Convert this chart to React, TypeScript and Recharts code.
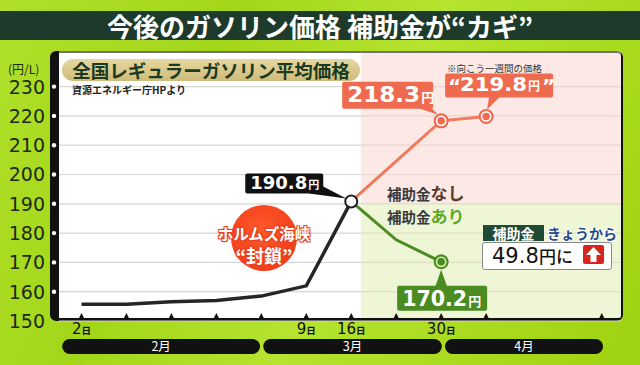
import { ComposedChart, Line, XAxis, YAxis, CartesianGrid, ReferenceArea } from "recharts";

// weekly prices, day 0 = 2月2日
const days = [0, 7, 14, 21, 28, 35, 42, 49, 56, 63];
const actualPrice = [155.7, 155.7, 156.6, 157.0, 158.5, 162.0, 190.8, null, null, null];
const noSubsidyPrice = [null, null, null, null, null, null, 190.8, null, 218.3, 219.8];
const withSubsidyPrice = [null, null, null, null, null, null, 190.8, 177.7, 170.2, null];

const yTicks = [150, 160, 170, 180, 190, 200, 210, 220, 230];
const xTicks = [0, 7, 14, 21, 28, 35, 42, 49, 56, 63, 81];
const xTickLabels = ["2", "", "", "", "", "9", "16", "", "30", "", ""];
const monthLabels = ["2月", "3月", "4月"];
const monthFrom = [-3.0, 28.3, 56.6];
const monthTo = [27.8, 56.1, 81.2];
const monthCenters = monthFrom.map((f, i) => (f + monthTo[i]) / 2);

const X_DOMAIN = [-3.5, 84];
const Y_DOMAIN = [150, 241.8];
const FORECAST_FROM = 43.5;
const SPLIT_PRICE = 190;

const CHART_W = 640;
const CHART_H = 365;
const MARGIN = { top: 52, right: 19, bottom: 6, left: 0 };
const Y_AXIS_W = 59;
const PX_PER_DAY = (CHART_W - MARGIN.left - MARGIN.right - Y_AXIS_W) / (X_DOMAIN[1] - X_DOMAIN[0]);

const data = days.map((day, i) => ({
  day,
  actual: actualPrice[i],
  noSubsidy: noSubsidyPrice[i],
  withSubsidy: withSubsidyPrice[i],
}));

const JP = "'Noto Sans CJK JP', sans-serif";
const NUM = "'DejaVu Sans', sans-serif";

const ORANGE = "#ef6b4f";
const GREEN = "#4a8b22";

// callout boxes, offsets relative to the point
const callouts: any = {
  actual: {
    6: { bx: -106, by: -28, bw: 78, bh: 20, fill: "#111", size: 17.5, len: 57, unit: 11, base: 16, pad: 5,
      ptr: [[-42, -8], [-28, -15], [-5, -3]] },
  },
  noSubsidy: {
    8: { bx: -99, by: -39, bw: 91, bh: 27, fill: ORANGE, size: 21, len: 73, unit: 13, base: 20, pad: 5,
      ptr: [[-24, -13], [-10, -13], [-3, -6]] },
    9: { bx: -41, by: -43, bw: 108, bh: 24, fill: ORANGE, size: 19, len: 67, unit: 12, base: 18, pad: 15, quote: true,
      ptr: [[3, -20], [14, -20], [1, -7]] },
  },
  withSubsidy: {
    8: { bx: -44, by: 24, bw: 90, bh: 25, fill: GREEN, size: 20.5, len: 65, unit: 13, base: 20, pad: 5,
      ptr: [[-6, 25], [6, 25], [0, 8]] },
  },
};

function Callout({ cx, cy, value, c }: any) {
  const x0 = cx + c.bx;
  const y0 = cy + c.by;
  const nx = x0 + c.pad;
  const by = y0 + c.base;
  return (
    <g>
      <polygon points={c.ptr.map((p: number[]) => `${cx + p[0]},${cy + p[1]}`).join(" ")} fill={c.fill} />
      <rect x={x0} y={y0} width={c.bw} height={c.bh} rx={2} fill={c.fill} />
      {c.quote && (
        <text x={x0 + 3} y={by + 2} fill="#fff" fontFamily={NUM} fontWeight="bold" fontSize={20}>“</text>
      )}
      <text x={nx} y={by} fill="#fff" fontFamily={NUM} fontWeight="bold" fontSize={c.size}
        textLength={c.len} lengthAdjust="spacingAndGlyphs">
        {value.toFixed(1)}
      </text>
      <text x={nx + c.len + 1} y={by} fill="#fff" fontFamily={JP} fontWeight="bold" fontSize={c.unit}>円</text>
      {c.quote && (
        <text x={nx + c.len + c.unit + 3} y={by + 2} fill="#fff" fontFamily={NUM} fontWeight="bold" fontSize={20}>”</text>
      )}
    </g>
  );
}

const makeDot = (series: string, kind: string, color: string, ring: string) => (props: any) => {
  const { cx, cy, index, value } = props;
  const c = callouts[series][index];
  if (!c || cy == null || value == null) return <g key={`${series}-${index}`} />;
  return (
    <g key={`${series}-${index}`}>
      <Callout cx={cx} cy={cy} value={value} c={c} />
      {kind === "hollow" ? (
        <circle cx={cx} cy={cy} r={6} fill="#fff" stroke="#222" strokeWidth={2} />
      ) : (
        <g>
          <circle cx={cx} cy={cy} r={7.5} fill={color} />
          <circle cx={cx} cy={cy} r={4.6} fill="none" stroke={ring} strokeWidth={1.6} />
        </g>
      )}
    </g>
  );
};

function YTick(props: any) {
  const { x, y, payload } = props;
  return (
    <g>
      {payload.value !== 150 && <circle cx={x - 5} cy={y} r={2.2} fill="#fff" />}
      <text x={x - 14} y={y + 7} textAnchor="end" fontFamily={NUM} fontSize={19} fill="#1c2a18">
        {payload.value}
      </text>
    </g>
  );
}

function XTick(props: any) {
  const { x, y, payload } = props;
  const label = xTickLabels[xTicks.indexOf(payload.value)];
  return (
    <g>
      <polygon points={`${x - 2.5},${y - 3} ${x + 2.5},${y - 3} ${x},${y - 8}`} fill="#111" />
      {label && (
        <text x={x} y={y + 13} textAnchor="middle" fill="#111">
          <tspan fontFamily={NUM} fontSize={15}>{label}</tspan>
          <tspan fontFamily={JP} fontSize={9.5} fontWeight="bold">日</tspan>
        </text>
      )}
    </g>
  );
}

function MonthTick(props: any) {
  const { x, y, payload } = props;
  const i = monthCenters.indexOf(payload.value);
  const hw = ((monthTo[i] - monthFrom[i]) / 2) * PX_PER_DAY;
  return (
    <g>
      <rect x={x - hw} y={y} width={hw * 2} height={15} rx={7.5} fill="#111" />
      <text x={x} y={y + 12} textAnchor="middle" fill="#fff" fontFamily={JP} fontSize={12.5}>
        {monthLabels[i]}
      </text>
    </g>
  );
}

const abs = (s: any) => ({ position: "absolute" as const, ...s });

export default function App() {
  return (
    <div
      style={abs({
        left: 0, top: 0, width: CHART_W, height: CHART_H, overflow: "hidden",
        background: "linear-gradient(115deg, #b0e02a 0%, #a3d619 30%, #b5e32f 55%, #9fd20f 100%)",
        fontFamily: JP,
      })}
    >
      <div
        style={abs({
          left: 0, top: 11, width: 640, height: 29, background: "#1d3a2b", color: "#fff",
          fontSize: 26, fontWeight: "bold", lineHeight: "29px", textAlign: "center",
        })}
      >
        今後のガソリン価格 補助金が“カギ”
      </div>

      <div style={abs({ left: 50, top: 51, width: 573, height: 270, background: "#fff", borderRadius: 6 })} />
      <div
        style={abs({
          left: 50, top: 51, width: 573, height: 270, boxSizing: "border-box", borderRadius: 6,
          border: "2px solid #111", borderLeft: "9px solid #111", borderBottom: "3px solid #111",
        })}
      />

      <div style={abs({ left: 8, top: 60, fontSize: 12, color: "#1c2a18" })}>(円/L)</div>

      <div style={abs({ left: 0, top: 0 })}>
        <ComposedChart width={CHART_W} height={CHART_H} data={data} margin={MARGIN}>
          <CartesianGrid vertical={false} stroke="#d6d6d6" strokeWidth={1.2} />
          <ReferenceArea x1={FORECAST_FROM} x2={X_DOMAIN[1]} y1={SPLIT_PRICE} y2={241.5}
            fill="#f9d1c9" fillOpacity={0.5} stroke="none" />
          <ReferenceArea x1={FORECAST_FROM} x2={X_DOMAIN[1]} y1={151} y2={SPLIT_PRICE}
            fill="#ddedad" fillOpacity={0.5} stroke="none" />
          <XAxis dataKey="day" type="number" domain={X_DOMAIN} ticks={xTicks} interval={0}
            axisLine={false} tickLine={false} tickSize={0} tickMargin={0} height={18} tick={<XTick />} />
          <XAxis xAxisId="m" dataKey="day" type="number" domain={X_DOMAIN} ticks={monthCenters} interval={0}
            axisLine={false} tickLine={false} tickSize={0} tickMargin={0} height={20} tick={<MonthTick />} />
          <YAxis type="number" domain={Y_DOMAIN} ticks={yTicks} interval={0} width={Y_AXIS_W}
            axisLine={false} tickLine={false} tickSize={0} tickMargin={0} tick={<YTick />} />
          <Line type="linear" dataKey="noSubsidy" stroke="#ef7a5d" strokeWidth={3} connectNulls
            dot={makeDot("noSubsidy", "ring", ORANGE, "#fff")} activeDot={false} isAnimationActive={false} />
          <Line type="linear" dataKey="withSubsidy" stroke={GREEN} strokeWidth={3} connectNulls
            dot={makeDot("withSubsidy", "ring", GREEN, "#d6ecb0")} activeDot={false} isAnimationActive={false} />
          <Line type="linear" dataKey="actual" stroke="#262626" strokeWidth={3.5}
            dot={makeDot("actual", "hollow", "#222", "#fff")} activeDot={false} isAnimationActive={false} />
        </ComposedChart>
      </div>

      <div
        style={abs({
          left: 62, top: 59, width: 298, height: 22, borderRadius: 11,
          background: "linear-gradient(#e6d8a0, #cfbb7a)", color: "#1a3a22",
          fontSize: 18.5, fontWeight: "bold", lineHeight: "22px", textAlign: "center",
        })}
      >
        全国レギュラーガソリン平均価格
      </div>
      <div style={abs({ left: 72, top: 82, fontSize: 10, fontWeight: "bold", color: "#222" })}>
        資源エネルギー庁HPより
      </div>

      <div style={abs({ left: 447, top: 61, fontSize: 9.5, color: "#333" })}>※向こう一週間の価格</div>

      <div
        style={abs({
          left: 231, top: 205, width: 66, height: 66, borderRadius: "50%",
          background: "radial-gradient(circle at 45% 40%, #ff5a2c, #ec3314)",
        })}
      />
      {["ホルムズ海峡", "“封鎖”"].map((t, i) => (
        <div
          key={t}
          style={abs({
            left: 204, top: i === 0 ? 224 : 245, width: 120, textAlign: "center", color: "#fff",
            fontSize: i === 0 ? 15.5 : 18, fontWeight: "bold", lineHeight: i === 0 ? "18px" : "20px",
            textShadow: "1px 1px 0 #e8401f, -1px -1px 0 #e8401f, 1px -1px 0 #e8401f, -1px 1px 0 #e8401f, 0 0 3px #e8401f",
          })}
        >
          {t}
        </div>
      ))}

      <div style={abs({ left: 387, top: 180, fontWeight: "bold", whiteSpace: "nowrap" })}>
        <span style={{ fontSize: 14.5, color: "#3a3a3a" }}>補助金</span>
        <span style={{ fontSize: 17, color: "#5a3b2c" }}>なし</span>
      </div>
      <div style={abs({ left: 387, top: 203, fontWeight: "bold", whiteSpace: "nowrap" })}>
        <span style={{ fontSize: 14.5, color: "#3a3a3a" }}>補助金</span>
        <span style={{ fontSize: 17, color: "#5ea91c", textShadow: "0 0 2px #fff" }}>あり</span>
      </div>

      <div
        style={abs({
          left: 483, top: 225, width: 61, height: 16, background: "#1f4a36", color: "#fff",
          fontSize: 14, fontWeight: "bold", lineHeight: "16px", textAlign: "center",
        })}
      >
        補助金
      </div>
      <div
        style={abs({
          left: 547, top: 223, fontSize: 14, fontWeight: "bold", color: "#264a82", whiteSpace: "nowrap",
          textShadow: "1px 1px 0 #fff, -1px -1px 0 #fff, 1px -1px 0 #fff, -1px 1px 0 #fff",
        })}
      >
        きょうから
      </div>
      <div
        style={abs({
          left: 482, top: 242, width: 130, height: 28, boxSizing: "border-box", background: "#fff",
          border: "1.5px solid #8a8a8a", borderRadius: 3,
        })}
      >
        <span style={abs({ left: 9, top: 0, fontFamily: NUM, fontSize: 21, lineHeight: "26px", color: "#111" })}>
          49.8
        </span>
        <span style={abs({ left: 56, top: 0, fontSize: 17, lineHeight: "26px", color: "#111", fontWeight: 500 })}>
          円に
        </span>
        <svg style={abs({ left: 100, top: 2, width: 21, height: 19 })} viewBox="0 0 21 19">
          <rect x={0} y={0} width={21} height={19} rx={2} fill="#d8241c" />
          <polygon points="10.5,2 18,10 13.5,10 13.5,17 7.5,17 7.5,10 3,10" fill="#fff" />
        </svg>
      </div>
    </div>
  );
}
